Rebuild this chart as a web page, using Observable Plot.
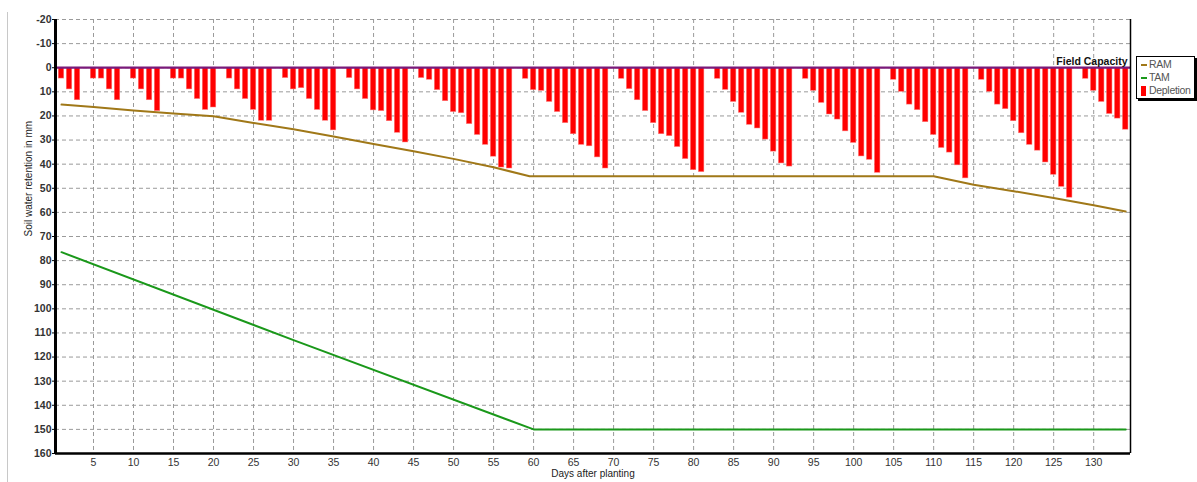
<!DOCTYPE html>
<html>
<head>
<meta charset="utf-8">
<script src="https://cdn.jsdelivr.net/npm/d3@7"></script>
<script src="https://cdn.jsdelivr.net/npm/@observablehq/plot@0.6"></script>
<style>
  html, body { margin: 0; padding: 0; background: #fff; }
  #wrap { position: relative; width: 1197px; height: 482px; overflow: hidden; font-family: "Liberation Sans", Arial, sans-serif; }
  #edge { position: absolute; left: 7px; top: 12px; bottom: 0; border-left: 1px solid #c8c8c8; }
  #legend { position: absolute; left: 1136px; top: 56px; width: 57px; height: 41px; background: #fff;
            border: 1px solid #000; box-shadow: 2px 2px 0 #000; font-size: 10.5px; color: #555; }
  .item { position: absolute; left: 0; height: 13px; line-height: 13px; }
  .sw { position: absolute; left: 4px; }
  .lab { position: absolute; left: 12px; white-space: nowrap; letter-spacing: -0.3px; }
</style>
</head>
<body>
<div id="wrap">
  <div id="edge"></div>
  <div id="chart"></div>
  <div id="legend"></div>
</div>
<script>
// ---- data ----
const seriesNames = ["RAM", "TAM", "Depletion"];
const seriesColors = ["#a07818", "#1a981a", "#ff0000"];
const fieldCapacity = 0;
const fieldCapacityLabel = "Field Capacity";
const xTicks = [5,10,15,20,25,30,35,40,45,50,55,60,65,70,75,80,85,90,95,100,105,110,115,120,125,130];
const yTicks = [-20,-10,0,10,20,30,40,50,60,70,80,90,100,110,120,130,140,150,160];

// depletion (mm) for days 1..134
const depletion = [
  4.5, 9, 13.5, 0, 4.5, 4.5, 9, 13.5, 0, 4.5,
  9, 13.5, 18, 0, 4.5, 4.5, 9, 13, 17.5, 16.5,
  0, 4.5, 9, 13, 17.5, 22, 22, 0, 4.3, 9,
  8.5, 13, 17.5, 22, 26, 0, 4.3, 9, 13, 17.7,
  18, 22.2, 27, 31, 0, 4.3, 5, 9.3, 13.9, 18.4,
  18.9, 23.4, 27.9, 32, 36.9, 41.4, 41.8, 0, 4.6, 9.3,
  9.6, 14.2, 18.4, 23, 27.6, 32, 32.6, 37.2, 41.8, 0,
  4.6, 8.9, 13.5, 18, 23, 27.6, 28.4, 32.9, 37.9, 42.5,
  43.3, 0, 4.6, 9.2, 14.2, 18.7, 23.7, 25.2, 29.8, 34.8,
  39.7, 41, 0, 4.6, 9.6, 14.6, 19.4, 21.5, 26.4, 31.2,
  36.8, 38.2, 43.6, 0, 5, 10, 15.3, 17.6, 22.6, 27.9,
  33.3, 35.2, 40.5, 45.9, 0, 5, 10, 15.3, 17.2, 22.2,
  27.2, 32, 34.4, 39.3, 44.4, 49.4, 53.9, 0, 4.6, 9.6,
  14.2, 19.2, 21.1, 25.7
];

// RAM readings (day, mm)
const ramDays = [1, 5, 10, 15, 20, 25, 30, 35, 40, 45, 50, 55, 59.5, 110, 115, 120, 125, 130, 134];
const ramVals = [15.3, 16.3, 17.7, 19, 20.1, 22.9, 25.5, 28.5, 31.6, 34.6, 37.8, 41.3, 45, 45, 48.5, 51.2, 54, 57, 59.6];

// TAM readings (day, mm)
const tamDays = [1, 30, 60, 134];
const tamVals = [76.5, 113, 150, 150];

// ---- build tables ----
const bars = depletion.map((v, i) => ({day: i + 1, v})).filter(d => d.v > 0);
const ram = ramDays.map((d, i) => ({day: d, v: ramVals[i]}));
const tam = tamDays.map((d, i) => ({day: d, v: tamVals[i]}));
const halfBar = 0.345;

const chart = Plot.plot({
  width: 1197,
  height: 482,
  marginLeft: 55,
  marginRight: 67,
  marginTop: 19,
  marginBottom: 29,
  style: {fontFamily: "'Liberation Sans', Arial, sans-serif", fontSize: "10px", background: "#fff", overflow: "visible"},
  x: {domain: [0.25, 134.6], axis: null},
  y: {domain: [-20, 160], reverse: true, axis: null},
  marks: [
    Plot.gridX(xTicks, {stroke: "#9a9a9a", strokeOpacity: 1, strokeDasharray: "4,3", strokeWidth: 1}),
    Plot.gridY(yTicks, {stroke: "#9a9a9a", strokeOpacity: 1, strokeDasharray: "4,3", strokeWidth: 1}),
    Plot.rectY(bars, {x1: d => d.day - halfBar, x2: d => d.day + halfBar, y1: 0, y2: "v", fill: seriesColors[2], stroke: "#ff8080", strokeWidth: 0.5}),
    Plot.ruleY([fieldCapacity], {stroke: "#7a1a7a", strokeWidth: 2.2}),
    Plot.line(ram, {x: "day", y: "v", stroke: seriesColors[0], strokeWidth: 2}),
    Plot.line(tam, {x: "day", y: "v", stroke: seriesColors[1], strokeWidth: 2}),
    Plot.ruleX([0.25], {stroke: "#000", strokeWidth: 3}),
    Plot.ruleY([160], {stroke: "#000", strokeWidth: 2.5}),
    Plot.ruleX([134.6], {stroke: "#000", strokeWidth: 1.5}),
    Plot.axisY(yTicks, {anchor: "left", tickSize: 3, tickPadding: 1, tickFormat: d => String(d), fill: "#333", fontSize: 10.5, fontWeight: "bold", stroke: "#000", label: null}),
    Plot.axisX(xTicks, {anchor: "bottom", tickSize: 0, tickPadding: 5, tickFormat: d => String(d), fill: "#333", fontSize: 10.5, label: null}),
    Plot.text([fieldCapacityLabel], {y: [fieldCapacity], text: d => d, frameAnchor: "right", textAnchor: "end", dx: -3, dy: -6, fontWeight: "bold", fontSize: 10.5, fill: "#111"}),
    Plot.text(["Soil water retention in mm"], {frameAnchor: "left", text: d => d, rotate: -90, dx: -27, fontSize: 10, fill: "#222"}),
    Plot.text(["Days after planting"], {frameAnchor: "bottom", text: d => d, dy: 23, fontSize: 10, fill: "#222"})
  ]
});
document.getElementById("chart").appendChild(chart);

// ---- legend ----
const legend = document.getElementById("legend");
seriesNames.forEach((name, i) => {
  const item = document.createElement("div");
  item.className = "item";
  item.style.top = (1 + i * 13) + "px";
  const sw = document.createElement("div");
  sw.className = "sw";
  if (i < 2) {
    sw.style.top = "6px"; sw.style.width = "6px"; sw.style.height = "2px";
  } else {
    sw.style.top = "2px"; sw.style.width = "5px"; sw.style.height = "10px";
  }
  sw.style.background = seriesColors[i];
  const lab = document.createElement("div");
  lab.className = "lab";
  lab.textContent = name;
  item.appendChild(sw);
  item.appendChild(lab);
  legend.appendChild(item);
});
</script>
</body>
</html>
